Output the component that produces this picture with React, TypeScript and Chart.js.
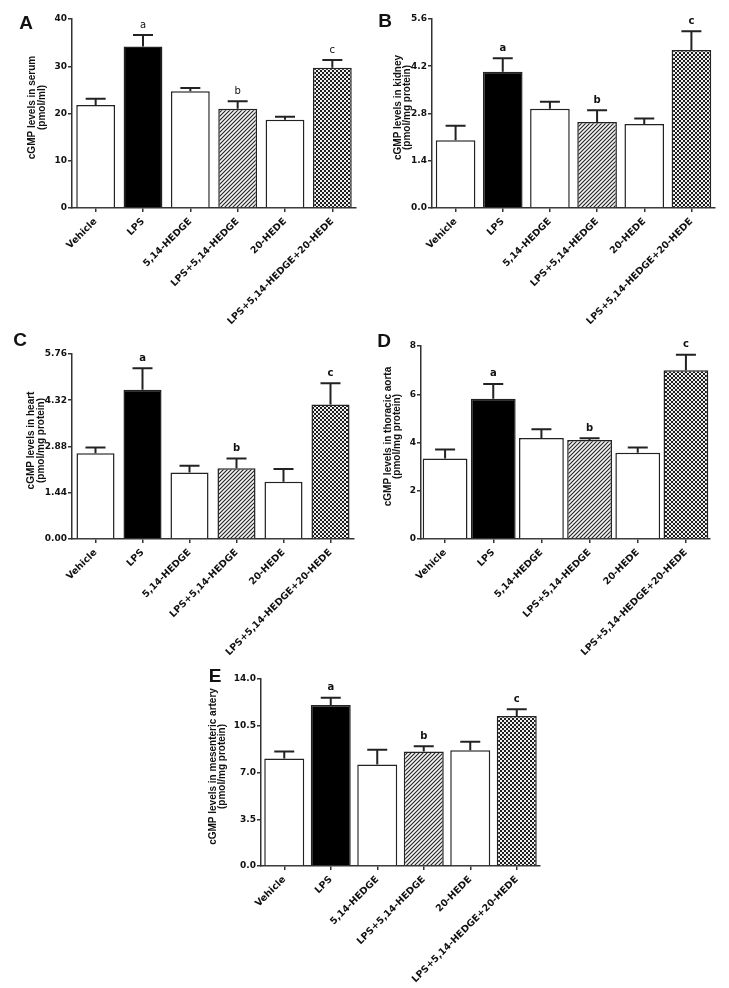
import React, { useEffect, useRef } from 'react';
import { Chart, registerables } from 'chart.js';

Chart.register(...registerables);

const FONT = "Arial, 'Liberation Sans', Helvetica, sans-serif";
const TICKFONT = "'DejaVu Sans', Verdana, sans-serif";

const categories = ['Vehicle', 'LPS', '5,14-HEDGE', 'LPS+5,14-HEDGE', '20-HEDE', 'LPS+5,14-HEDGE+20-HEDE'];
const annotations = ['', 'a', '', 'b', '', 'c'];

// A: serum
const serumMean = [21.8, 34.2, 24.7, 21.0, 18.7, 29.7];
const serumSem = [1.3, 2.4, 0.7, 1.6, 0.6, 1.6];
const serumTicks = [0, 10, 20, 30, 40];
const serumTickLabels = ['0', '10', '20', '30', '40'];

// B: kidney
const kidneyMean = [2.01, 4.04, 2.94, 2.55, 2.49, 4.68];
const kidneySem = [0.43, 0.4, 0.21, 0.35, 0.16, 0.56];
const kidneyTicks = [0, 1.4, 2.8, 4.2, 5.6];
const kidneyTickLabels = ['0.0', '1.4', '2.8', '4.2', '5.6'];

// C: heart
const heartMean = [2.67, 4.65, 2.07, 2.2, 1.78, 4.19];
const heartSem = [0.18, 0.67, 0.21, 0.31, 0.4, 0.66];
const heartTicks = [0, 1.44, 2.88, 4.32, 5.76];
const heartTickLabels = ['0.00', '1.44', '2.88', '4.32', '5.76'];

// D: thoracic aorta
const aortaMean = [3.34, 5.81, 4.19, 4.1, 3.57, 6.99];
const aortaSem = [0.37, 0.62, 0.36, 0.08, 0.22, 0.65];
const aortaTicks = [0, 2, 4, 6, 8];
const aortaTickLabels = ['0', '2', '4', '6', '8'];

// E: mesenteric artery
const mesMean = [8.04, 12.05, 7.59, 8.57, 8.67, 11.23];
const mesSem = [0.53, 0.55, 1.11, 0.4, 0.63, 0.5];
const mesTicks = [0, 3.5, 7, 10.5, 14];
const mesTickLabels = ['0.0', '3.5', '7.0', '10.5', '14.0'];

type Area = { left: number; right: number; top: number; bottom: number };
type PanelDef = {
  letter: string;
  title: string[];
  mean: number[];
  sem: number[];
  ticks: number[];
  tickLabels: string[];
  x: number; y: number; w: number; h: number;
  area: Area;
  barPct: number;
  titleX: number;
  letterX: number; letterY: number;
  annotBold: boolean;
};

const panels: PanelDef[] = [
  {
    letter: 'A', title: ['cGMP levels in serum', '(pmol/ml)'],
    mean: serumMean, sem: serumSem, ticks: serumTicks, tickLabels: serumTickLabels,
    x: 0, y: 0, w: 365, h: 345,
    area: { left: 72, right: 356, top: 19, bottom: 208 },
    barPct: 0.82, titleX: 32.5, letterX: 26, letterY: 24, annotBold: false,
  },
  {
    letter: 'B', title: ['cGMP levels in kidney', '(pmol/mg protein)'],
    mean: kidneyMean, sem: kidneySem, ticks: kidneyTicks, tickLabels: kidneyTickLabels,
    x: 365, y: 0, w: 364, h: 345,
    area: { left: 67, right: 350, top: 19, bottom: 208 },
    barPct: 0.84, titleX: 33, letterX: 20, letterY: 22, annotBold: true,
  },
  {
    letter: 'C', title: ['cGMP levels in heart', '(pmol/mg protein)'],
    mean: heartMean, sem: heartSem, ticks: heartTicks, tickLabels: heartTickLabels,
    x: 0, y: 325, w: 365, h: 340,
    area: { left: 72, right: 354, top: 29, bottom: 214 },
    barPct: 0.81, titleX: 31.5, letterX: 20, letterY: 16, annotBold: true,
  },
  {
    letter: 'D', title: ['cGMP levels in thoracic aorta', '(pmol/mg protein)'],
    mean: aortaMean, sem: aortaSem, ticks: aortaTicks, tickLabels: aortaTickLabels,
    x: 365, y: 325, w: 364, h: 340,
    area: { left: 56, right: 345, top: 21, bottom: 214 },
    barPct: 0.93, titleX: 23, letterX: 19, letterY: 17, annotBold: true,
  },
  {
    letter: 'E', title: ['cGMP levels in mesenteric artery', '(pmol/mg protein)'],
    mean: mesMean, sem: mesSem, ticks: mesTicks, tickLabels: mesTickLabels,
    x: 180, y: 660, w: 380, h: 328,
    area: { left: 81, right: 360, top: 19, bottom: 206 },
    barPct: 0.86, titleX: 33, letterX: 35, letterY: 17, annotBold: true,
  },
];

function makeHatch(): CanvasPattern | string {
  const t = document.createElement('canvas');
  t.width = 4; t.height = 4;
  const c = t.getContext('2d');
  if (!c) return '#888';
  c.fillStyle = '#f4f4f4';
  c.fillRect(0, 0, 4, 4);
  c.strokeStyle = '#222';
  c.lineWidth = 1.1;
  c.beginPath();
  c.moveTo(-1, 5); c.lineTo(5, -1);
  c.moveTo(-1, 1); c.lineTo(1, -1);
  c.moveTo(3, 5); c.lineTo(5, 3);
  c.stroke();
  const p = c.createPattern(t, 'repeat');
  return p || '#888';
}

function makeChecker(): CanvasPattern | string {
  const t = document.createElement('canvas');
  t.width = 4; t.height = 4;
  const c = t.getContext('2d');
  if (!c) return '#555';
  c.fillStyle = '#1e1e1e';
  c.fillRect(0, 0, 4, 4);
  c.fillStyle = '#f0f0f0';
  c.fillRect(0, 0, 2, 2);
  c.fillRect(2, 2, 2, 2);
  const p = c.createPattern(t, 'repeat');
  return p || '#555';
}

function Panel({ def }: { def: PanelDef }) {
  const ref = useRef<HTMLCanvasElement | null>(null);
  useEffect(() => {
    const canvas = ref.current;
    if (!canvas) return;
    const hatch = makeHatch();
    const checker = makeChecker();
    const bg: any[] = ['#ffffff', '#000000', '#ffffff', hatch, '#ffffff', checker];
    const a = def.area;

    const overlay = {
      id: 'overlay' + def.letter,
      afterDatasetsDraw(chart: any) {
        const c = chart.ctx as CanvasRenderingContext2D;
        const ys = chart.scales.y;
        const meta = chart.getDatasetMeta(0);
        c.save();
        c.strokeStyle = '#222';
        c.lineWidth = 2;
        meta.data.forEach((bar: any, i: number) => {
          const x = bar.x;
          const top = ys.getPixelForValue(def.mean[i]);
          const et = ys.getPixelForValue(def.mean[i] + def.sem[i]);
          c.beginPath();
          c.moveTo(x, top);
          c.lineTo(x, et);
          c.moveTo(x - 10, et);
          c.lineTo(x + 10, et);
          c.stroke();
          const ann = annotations[i];
          if (ann) {
            c.fillStyle = '#111';
            c.font = `${def.annotBold ? 'bold ' : ''}10px ${TICKFONT}`;
            c.textAlign = 'center';
            c.textBaseline = 'bottom';
            c.fillText(ann, x, et - 5);
          }
        });
        c.restore();
      },
      afterDraw(chart: any) {
        const c = chart.ctx as CanvasRenderingContext2D;
        const area = chart.chartArea;
        const cy = (area.top + area.bottom) / 2 - 6;
        c.save();
        c.fillStyle = '#111';
        c.font = `bold 10px ${FONT}`;
        c.textAlign = 'center';
        c.textBaseline = 'middle';
        def.title.forEach((line, k) => {
          c.save();
          c.translate(def.titleX + k * 9.5, cy);
          c.rotate(-Math.PI / 2);
          c.fillText(line, 0, 0);
          c.restore();
        });
        c.font = `bold 19px ${FONT}`;
        c.fillText(def.letter, def.letterX, def.letterY);
        c.restore();
      },
    };

    const chart = new Chart(canvas, {
      type: 'bar',
      data: {
        labels: categories,
        datasets: [
          {
            data: def.mean,
            backgroundColor: bg,
            borderColor: '#222',
            borderWidth: 1.5,
            barPercentage: def.barPct,
            categoryPercentage: 1,
          },
        ],
      },
      options: {
        responsive: false,
        animation: false,
        devicePixelRatio: 1,
        layout: { padding: { left: 0, top: a.top, right: def.w - a.right, bottom: 0 } },
        plugins: { legend: { display: false }, tooltip: { enabled: false } },
        scales: {
          x: {
            grid: { display: true, drawOnChartArea: false, offset: false, tickLength: 4, color: '#333', lineWidth: 1.5 },
            border: { display: true, color: '#333', width: 1.5 },
            ticks: {
              autoSkip: false,
              maxRotation: 45,
              minRotation: 45,
              padding: 4,
              color: '#111',
              font: { family: TICKFONT, size: 9.5, weight: 'bold' },
            },
            afterFit: (s: any) => { s.height = def.h - a.bottom; },
          },
          y: {
            min: 0,
            max: def.ticks[def.ticks.length - 1],
            grid: { display: true, drawOnChartArea: false, tickLength: 4, color: '#333', lineWidth: 1.5 },
            border: { display: true, color: '#333', width: 1.5 },
            afterBuildTicks: (s: any) => { s.ticks = def.ticks.map((v) => ({ value: v })); },
            ticks: {
              padding: 1,
              color: '#111',
              font: { family: TICKFONT, size: 9, weight: 'bold' },
              callback: (v: any) => {
                const idx = def.ticks.findIndex((t) => Math.abs(t - Number(v)) < 1e-9);
                return idx >= 0 ? def.tickLabels[idx] : '';
              },
            },
            afterFit: (s: any) => { s.width = a.left; },
          },
        },
      } as any,
      plugins: [overlay],
    });
    return () => chart.destroy();
  }, [def]);

  return (
    <canvas
      ref={ref}
      width={def.w}
      height={def.h}
      style={{ position: 'absolute', left: def.x, top: def.y, width: def.w, height: def.h }}
    />
  );
}

export default function App() {
  return (
    <div style={{ position: 'absolute', left: 0, top: 0, width: 729, height: 988, background: '#ffffff', overflow: 'hidden' }}>
      {panels.map((p) => (
        <Panel key={p.letter} def={p} />
      ))}
    </div>
  );
}
